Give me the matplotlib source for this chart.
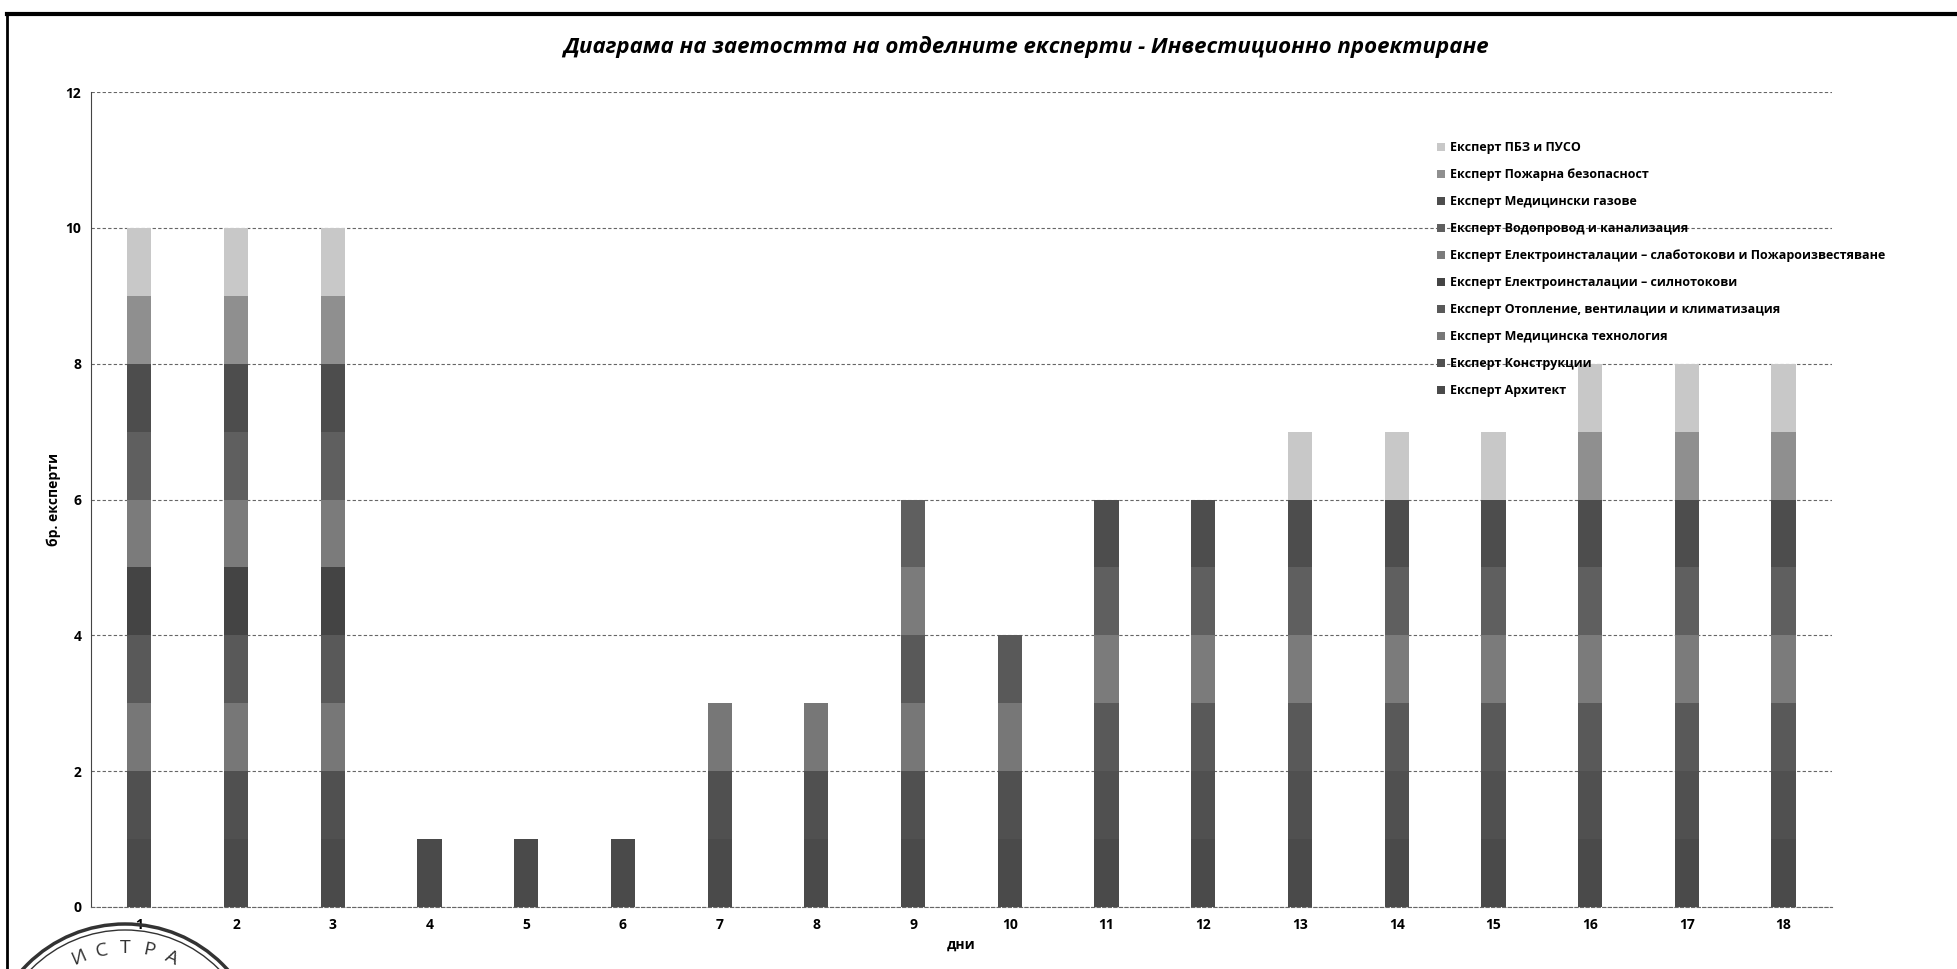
import matplotlib
matplotlib.use("Agg")
import matplotlib.pyplot as plt
from matplotlib.lines import Line2D
from matplotlib.patches import Circle
import numpy as np

plt.rcParams["font.family"] = ["Open Sans", "DejaVu Sans"]

days = [str(d) for d in range(1, 19)]

# брой експерти по дни, отдолу нагоре в реда на стека
arhitekt = [1, 1, 1, 1, 1, 1, 1, 1, 1, 1, 1, 1, 1, 1, 1, 1, 1, 1]
konstrukcii = [1, 1, 1, 0, 0, 0, 1, 1, 1, 1, 1, 1, 1, 1, 1, 1, 1, 1]
med_tehnologia = [1, 1, 1, 0, 0, 0, 1, 1, 1, 1, 0, 0, 0, 0, 0, 0, 0, 0]
ovk = [1, 1, 1, 0, 0, 0, 0, 0, 1, 1, 1, 1, 1, 1, 1, 1, 1, 1]
el_silnotokovi = [1, 1, 1, 0, 0, 0, 0, 0, 0, 0, 0, 0, 0, 0, 0, 0, 0, 0]
el_slabotokovi = [1, 1, 1, 0, 0, 0, 0, 0, 1, 0, 1, 1, 1, 1, 1, 1, 1, 1]
vik = [1, 1, 1, 0, 0, 0, 0, 0, 1, 0, 1, 1, 1, 1, 1, 1, 1, 1]
med_gazove = [1, 1, 1, 0, 0, 0, 0, 0, 0, 0, 1, 1, 1, 1, 1, 1, 1, 1]
pojarna = [1, 1, 1, 0, 0, 0, 0, 0, 0, 0, 0, 0, 0, 0, 0, 1, 1, 1]
pbz_puso = [1, 1, 1, 0, 0, 0, 0, 0, 0, 0, 0, 0, 1, 1, 1, 1, 1, 1]

labels = [
    "Експерт Архитект",
    "Експерт Конструкции",
    "Експерт Медицинска технология",
    "Експерт Отопление, вентилации и климатизация",
    "Експерт Електроинсталации – силнотокови",
    "Експерт Електроинсталации – слаботокови и Пожароизвестяване",
    "Експерт Водопровод и канализация",
    "Експерт Медицински газове",
    "Експерт Пожарна безопасност",
    "Експерт ПБЗ и ПУСО",
]
series = [arhitekt, konstrukcii, med_tehnologia, ovk, el_silnotokovi,
          el_slabotokovi, vik, med_gazove, pojarna, pbz_puso]
colors = ["#4a4a4a", "#505050", "#777777", "#595959", "#444444",
          "#7b7b7b", "#5f5f5f", "#4d4d4d", "#8f8f8f", "#c8c8c8"]

fig = plt.figure(figsize=(19.57, 9.69), dpi=100)
ax = fig.add_axes([0.0465, 0.064, 0.8896, 0.841])

x = np.arange(1, 19)
bottom = np.zeros(18)
handles = []
for vals, lab, c in zip(series, labels, colors):
    b = ax.bar(x, vals, 0.25, bottom=bottom, color=c, edgecolor="none", label=lab, zorder=3)
    handles.append(b)
    bottom += np.array(vals)

ax.set_xlim(0.5, 18.5)
ax.set_ylim(0, 12)
ax.set_yticks(range(0, 13, 2))
ax.set_xticks(x)
ax.set_xticklabels(days)
ax.tick_params(length=0, labelsize=10)
ax.tick_params(axis="x", pad=8)
ax.tick_params(axis="y", pad=7)
for t in ax.get_xticklabels() + ax.get_yticklabels():
    t.set_fontweight("bold")
ax.yaxis.grid(True, linestyle=(0, (3, 2)), color="#666666", linewidth=0.8, zorder=0)
for s in ["top", "right"]:
    ax.spines[s].set_visible(False)
ax.spines["left"].set_linestyle((0, (2, 1)))
ax.spines["left"].set_color("#444444")
ax.spines["bottom"].set_linestyle((0, (3, 2)))
ax.spines["bottom"].set_color("#666666")

ax.set_ylabel("бр. експерти", fontsize=10, fontweight="bold", labelpad=3)
ax.set_xlabel("дни", fontsize=10, fontweight="bold", labelpad=4)

fig.text(0.524, 0.952, "Диаграма на заетостта на отделните експерти - Инвестиционно проектиране",
         ha="center", va="center", fontsize=16, fontweight="bold", style="italic")

leg = ax.legend(handles[::-1], labels[::-1], loc="upper left",
                bbox_to_anchor=(1432 / 1957, 1 - 136 / 969), bbox_transform=fig.transFigure,
                frameon=False, fontsize=9, handlelength=0.6, handleheight=0.6,
                handletextpad=0.4, labelspacing=1.12, borderaxespad=0)
for t in leg.get_texts():
    t.set_fontweight("bold")

# рамка на сканираната страница
fig.add_artist(Line2D([7 / 1957, 1], [1 - 14 / 969, 1 - 14 / 969], transform=fig.transFigure,
                      color="black", linewidth=3))
fig.add_artist(Line2D([7 / 1957, 7 / 1957], [0, 1 - 14 / 969], transform=fig.transFigure,
                      color="black", linewidth=2))

# печат в долния ляв ъгъл
cx, cy = 1.25, -0.93
for r, lw in [(1.38, 2.5), (1.32, 1.0)]:
    fig.add_artist(Circle((cx, cy), r, transform=fig.dpi_scale_trans, fill=False,
                          edgecolor="#333333", linewidth=lw))
for ch, ang in zip("ИСТРА", [-24, -12, 0, 12, 24]):
    th = np.radians(ang)
    fig.text(cx + 1.14 * np.sin(th), cy + 1.14 * np.cos(th), ch,
             transform=fig.dpi_scale_trans, ha="center", va="center",
             rotation=-ang, fontsize=14, color="#333333")

fig.savefig("out.png", dpi=100)
